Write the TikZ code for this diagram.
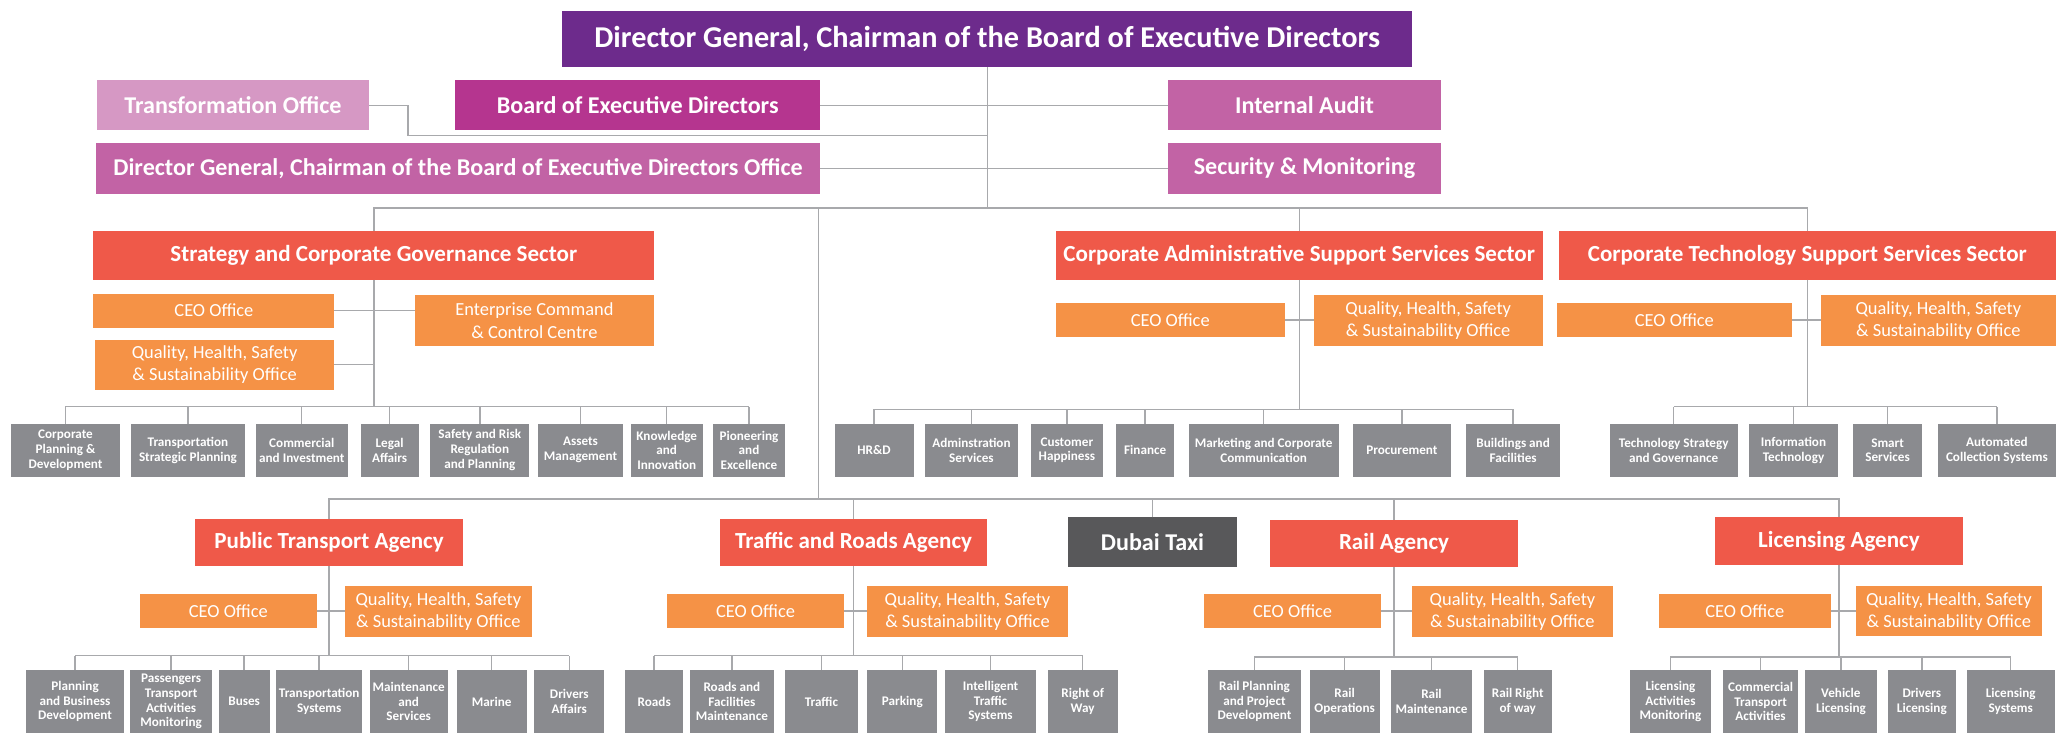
\documentclass[tikz,border=0pt]{standalone}
\usepackage{fontspec}
\setmainfont{Carlito}
\definecolor{cPurple}{HTML}{6D2B8C}
\definecolor{cTrans}{HTML}{D698C4}
\definecolor{cBoard}{HTML}{B5358F}
\definecolor{cPink}{HTML}{C263A5}
\definecolor{cRed}{HTML}{EF5949}
\definecolor{cOrange}{HTML}{F59246}
\definecolor{cGray}{HTML}{8A8B8F}
\definecolor{cTaxi}{HTML}{58585A}
\definecolor{cLine}{HTML}{A8A9AC}
\newcommand\bx[6]{\node[#1,minimum width=#4pt,minimum height=#5pt] (#2) at (#3) {#6};}
\begin{document}
\begin{tikzpicture}[x=1pt,y=-1pt,
  box/.style={inner sep=0pt, outer sep=0pt, align=center, text=white},
  topbox/.style={box, fill=cPurple, font=\bfseries\fontsize{23}{27}\selectfont},
  lvl/.style={box, font=\bfseries\fontsize{18.3}{21}\selectfont},
  sect/.style={box, fill=cRed, font=\bfseries\fontsize{17.5}{20}\selectfont},
  off/.style={box, fill=cOrange, font=\fontsize{14}{17}\selectfont},
  unitbox/.style={box, fill=cGray, font=\bfseries\fontsize{10}{11.2}\selectfont},
  ln/.style={draw=cLine, line width=1.1pt}]
\useasboundingbox (0,0) rectangle (1568,557);

% ---------- top ----------
\bx{topbox}{dg}{750,29.5}{646}{43}{Director General, Chairman of the Board of Executive Directors}
\bx{lvl,fill=cTrans}{trans}{177,80}{207}{38}{Transformation Office}
\bx{lvl,fill=cBoard}{board}{484.5,80}{277}{38}{Board of Executive Directors}
\bx{lvl,fill=cPink}{audit}{991,80}{208}{38}{Internal Audit}
\bx{lvl,fill=cPink}{dgo}{348,128}{550}{38}{Director General, Chairman of the Board of Executive Directors Office}
\bx{lvl,fill=cPink}{sec}{991,128}{208}{38}{Security \& Monitoring}

\coordinate (busT) at (750,158);
\coordinate (trK) at (310,103);
\coordinate (agT) at (622,158);
\coordinate (agB) at (622,379);
\draw[ln] (dg.south) -- (busT);
\draw[ln] (board.east) -- (audit.west);
\draw[ln] (dgo.east) -- (sec.west);
\draw[ln] (trans.east) -| (trK) -- (trK -| busT);

% ---------- sectors ----------
\bx{sect}{s1}{284,194}{426}{37}{Strategy and Corporate Governance Sector}
\bx{sect}{s2}{987,194}{370}{37}{Corporate Administrative Support Services Sector}
\bx{sect}{s3}{1373,194}{378}{37}{Corporate Technology Support Services Sector}
\draw[ln] (s1.north) -- (s1.north |- busT) -- (s3.north |- busT) -- (s3.north);
\draw[ln] (s2.north) -- (s2.north |- busT);
\draw[ln] (agT) -- (agB);

% Strategy block
\bx{off}{s1ceo}{162.5,236}{183}{26}{CEO Office}
\bx{off}{s1ecc}{406,243.5}{182}{39}{Enterprise Command\\\& Control Centre}
\bx{off}{s1q}{163,277}{182}{38}{Quality, Health, Safety\\\& Sustainability Office}
\coordinate (s1b) at (284,309);
\draw[ln] (s1.south) -- (s1b);
\draw[ln] (s1ceo.east) -- (s1ecc.west |- s1ceo.east);
\draw[ln] (s1q.east) -- (s1q.east -| s1b);
\bx{unitbox}{g1}{49.75,342}{82.5}{40}{Corporate\\Planning \&\\Development}
\bx{unitbox}{g2}{142.8,342}{86.4}{40}{Transportation\\Strategic Planning}
\bx{unitbox}{g3}{229.25,342}{69.5}{40}{Commercial\\and Investment}
\bx{unitbox}{g4}{296,342}{44}{40}{Legal\\Affairs}
\bx{unitbox}{g5}{364.5,342}{75}{40}{Safety and Risk\\Regulation\\and Planning}
\bx{unitbox}{g6}{441,342}{64}{40}{Assets\\Management}
\bx{unitbox}{g7}{506.5,342}{55}{40}{Knowledge\\and\\Innovation}
\bx{unitbox}{g8}{569,342}{54}{40}{Pioneering\\and\\Excellence}
\draw[ln] (g1.north |- s1b) -- (g8.north |- s1b);
\foreach \g in {g1,g2,g3,g4,g5,g6,g7,g8} \draw[ln] (\g.north) -- (\g.north |- s1b);

% Admin block
\bx{off}{s2ceo}{889,243}{174}{26}{CEO Office}
\bx{off}{s2q}{1085,243.5}{174}{39}{Quality, Health, Safety\\\& Sustainability Office}
\coordinate (s2b) at (987,311);
\draw[ln] (s2.south) -- (s2b);
\draw[ln] (s2ceo.east) -- (s2q.west |- s2ceo.east);
\bx{unitbox}{a1}{664,342}{60}{40}{HR\&D}
\bx{unitbox}{a2}{738,342}{70}{40}{Adminstration\\Services}
\bx{unitbox}{a3}{810.5,342}{55}{40}{Customer\\Happiness}
\bx{unitbox}{a4}{870,342}{44}{40}{Finance}
\bx{unitbox}{a5}{960,342}{114}{40}{Marketing and Corporate\\Communication}
\bx{unitbox}{a6}{1065,342}{74}{40}{Procurement}
\bx{unitbox}{a7}{1149.5,342}{71}{40}{Buildings and\\Facilities}
\draw[ln] (a1.north |- s2b) -- (a7.north |- s2b);
\foreach \g in {a1,a2,a3,a4,a5,a6,a7} \draw[ln] (\g.north) -- (\g.north |- s2b);

% Tech block
\bx{off}{s3ceo}{1272,243}{178}{26}{CEO Office}
\bx{off}{s3q}{1472.5,243.5}{179}{39}{Quality, Health, Safety\\\& Sustainability Office}
\coordinate (s3b) at (1373,309);
\draw[ln] (s3.south) -- (s3b);
\draw[ln] (s3ceo.east) -- (s3q.west |- s3ceo.east);
\bx{unitbox}{t1}{1271.5,342}{97}{40}{Technology Strategy\\and Governance}
\bx{unitbox}{t2}{1362.5,342}{67}{40}{Information\\Technology}
\bx{unitbox}{t3}{1434,342}{52}{40}{Smart\\Services}
\bx{unitbox}{t4}{1517,342}{90}{40}{Automated\\Collection Systems}
\draw[ln] (t1.north |- s3b) -- (t4.north |- s3b);
\foreach \g in {t1,t2,t3,t4} \draw[ln] (\g.north) -- (\g.north |- s3b);

% ---------- agencies ----------
\bx{sect}{pta}{250,412}{204}{36}{Public Transport Agency}
\bx{sect}{tra}{648.5,412}{203}{36}{Traffic and Roads Agency}
\bx{lvl,fill=cTaxi}{taxi}{875.5,412}{129}{38}{Dubai Taxi}
\bx{sect}{rail}{1059,413}{188}{36}{Rail Agency}
\bx{sect}{lic}{1397,411}{188}{36}{Licensing Agency}
\draw[ln] (pta.north) -- (pta.north |- agB) -- (lic.north |- agB) -- (lic.north);
\foreach \g in {tra,taxi,rail} \draw[ln] (\g.north) -- (\g.north |- agB);

% PTA
\bx{off}{pceo}{173.5,464}{135}{26}{CEO Office}
\bx{off}{pq}{333,464.5}{142}{39}{Quality, Health, Safety\\\& Sustainability Office}
\coordinate (pb) at (250,498);
\draw[ln] (pta.south) -- (pb);
\draw[ln] (pceo.east) -- (pq.west |- pceo.east);
\bx{unitbox}{p1}{57,533}{74}{48}{Planning\\and Business\\Development}
\bx{unitbox}{p2}{130,533}{62}{48}{Passengers\\Transport\\Activities\\Monitoring}
\bx{unitbox}{p3}{185.5,533}{39}{48}{Buses}
\bx{unitbox}{p4}{242.5,533}{65}{48}{Transportation\\Systems}
\bx{unitbox}{p5}{310.5,533}{59}{48}{Maintenance\\and\\Services}
\bx{unitbox}{p6}{373.5,533}{53}{48}{Marine}
\bx{unitbox}{p7}{432.5,533}{53}{48}{Drivers\\Affairs}
\draw[ln] (p1.north |- pb) -- (p7.north |- pb);
\foreach \g in {p1,p2,p3,p4,p5,p6,p7} \draw[ln] (\g.north) -- (\g.north |- pb);

% Traffic
\bx{off}{rceo}{574,464}{134}{26}{CEO Office}
\bx{off}{rq}{735,464.5}{152}{39}{Quality, Health, Safety\\\& Sustainability Office}
\coordinate (rb) at (648.5,498);
\draw[ln] (tra.south) -- (rb);
\draw[ln] (rceo.east) -- (rq.west |- rceo.east);
\bx{unitbox}{r1}{497,533}{44}{48}{Roads}
\bx{unitbox}{r2}{556,533}{64}{48}{Roads and\\Facilities\\Maintenance}
\bx{unitbox}{r3}{624,533}{56}{48}{Traffic}
\bx{unitbox}{r4}{685.5,533}{53}{48}{Parking}
\bx{unitbox}{r5}{752.5,533}{69}{48}{Intelligent\\Traffic\\Systems}
\bx{unitbox}{r6}{822.5,533}{53}{48}{Right of\\Way}
\draw[ln] (r1.north |- rb) -- (r6.north |- rb);
\foreach \g in {r1,r2,r3,r4,r5,r6} \draw[ln] (\g.north) -- (\g.north |- rb);

% Rail
\bx{off}{lceo}{982,464}{134}{26}{CEO Office}
\bx{off}{lq}{1149,464.5}{152}{39}{Quality, Health, Safety\\\& Sustainability Office}
\coordinate (lb) at (1059,499);
\draw[ln] (rail.south) -- (lb);
\draw[ln] (lceo.east) -- (lq.west |- lceo.east);
\bx{unitbox}{l1}{953,533}{70}{48}{Rail Planning\\and Project\\Development}
\bx{unitbox}{l2}{1021.5,533}{53}{48}{Rail\\Operations}
\bx{unitbox}{l3}{1087.5,533}{61}{48}{Rail\\Maintenance}
\bx{unitbox}{l4}{1153,533}{52}{48}{Rail Right\\of way}
\draw[ln] (l1.north |- lb) -- (l4.north |- lb);
\foreach \g in {l1,l2,l3,l4} \draw[ln] (\g.north) -- (\g.north |- lb);

% Licensing
\bx{off}{cceo}{1325.5,464}{131}{26}{CEO Office}
\bx{off}{cq}{1480.5,464.5}{141}{38}{Quality, Health, Safety\\\& Sustainability Office}
\coordinate (cb) at (1397,499);
\draw[ln] (lic.south) -- (cb);
\draw[ln] (cceo.east) -- (cq.west |- cceo.east);
\bx{unitbox}{c1}{1269,533}{62}{48}{Licensing\\Activities\\Monitoring}
\bx{unitbox}{c2}{1337.5,533}{57}{48}{Commercial\\Transport\\Activities}
\bx{unitbox}{c3}{1398.5,533}{55}{48}{Vehicle\\Licensing}
\bx{unitbox}{c4}{1460,533}{52}{48}{Drivers\\Licensing}
\bx{unitbox}{c5}{1527.5,533}{67}{48}{Licensing\\Systems}
\draw[ln] (c1.north |- cb) -- (c5.north |- cb);
\foreach \g in {c1,c2,c3,c4,c5} \draw[ln] (\g.north) -- (\g.north |- cb);
\end{tikzpicture}
\end{document}
